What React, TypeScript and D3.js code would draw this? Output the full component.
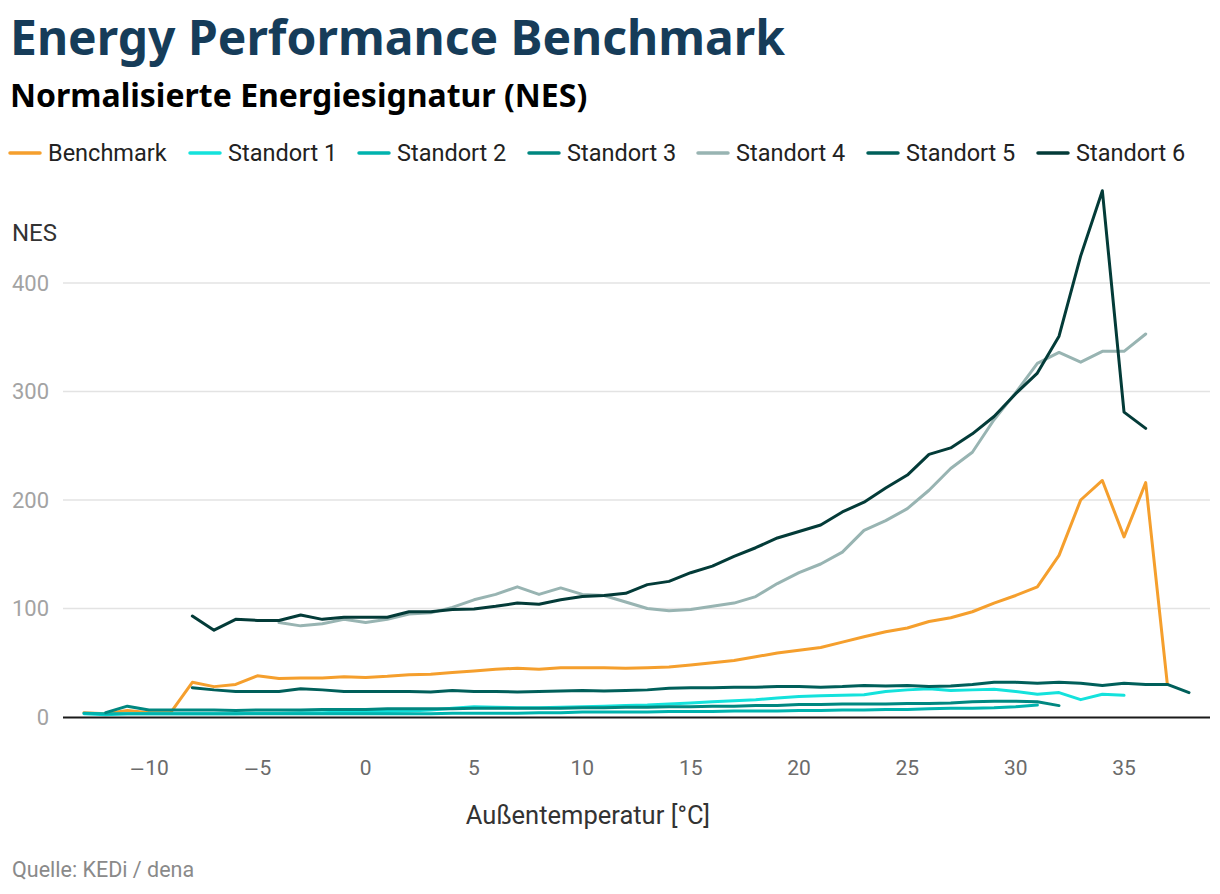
import * as d3 from "d3";
import { useEffect, useRef } from "react";

const seriesNames = ["Benchmark", "Standort 1", "Standort 2", "Standort 3", "Standort 4", "Standort 5", "Standort 6"];
const seriesColors = ["#f59f2d", "#14e2dc", "#00b3ae", "#008780", "#98b4b2", "#005f5a", "#033b38"];

// each series starts at a given temperature and has one value per degree
const benchmarkStart = -13;
const benchmark = [4, 3, 6, 4, 4, 32, 28, 30, 38, 35.5, 36, 36, 37, 36.5, 37.5, 39, 39.5, 41, 42.5, 44, 45, 44, 45.5, 45.5, 45.5, 45, 45.5, 46, 48, 50, 52, 55.5, 59, 61.5, 64, 69, 74, 78.5, 82, 88, 91.5, 97, 105, 112, 120, 149, 200, 218, 166, 216, 30];

const standort1Start = -13;
const standort1 = [3, 2, 3, 3, 3, 3, 3, 3, 3.5, 3.5, 4, 4, 4.5, 5, 5, 5.5, 6.5, 8, 9.5, 9, 8.5, 8.5, 9, 9.5, 10, 10.5, 11, 12, 13, 14, 15, 16, 17.5, 19, 19.5, 20, 20.5, 23.5, 25, 26, 24.5, 25, 25.5, 23.5, 21, 22.5, 16, 21, 20];

const standort2Start = -13;
const standort2 = [3.5, 3, 3, 3, 3, 3, 3, 3, 3, 3, 3, 3, 3, 3, 3, 3, 3, 3.5, 3.5, 3.5, 3.5, 4, 4, 4.5, 4.5, 4.5, 4.5, 5, 5, 5, 5.5, 5.5, 5.5, 6, 6, 6.5, 6.5, 7, 7, 7.5, 8, 8, 8.5, 9.5, 11];

const standort3Start = -12;
const standort3 = [4, 10, 6.5, 6.5, 6.5, 6.5, 6, 6.5, 6.5, 6.5, 7, 7, 7, 7.5, 7.5, 7.5, 7.5, 8, 8, 8, 8, 8, 8.5, 8.5, 9, 9, 9.5, 9.5, 10, 10, 10.5, 10.5, 11.5, 11.5, 12, 12, 12, 12.5, 12.5, 13, 14, 14.5, 14.5, 14, 10.5];

const standort4Start = -4;
const standort4 = [87, 84, 86, 90, 87, 90, 95, 96, 101, 108, 113, 120, 113, 119, 113, 112, 106, 100, 98, 99, 102, 105, 111, 123, 133, 141, 152, 172, 181, 192, 209, 229, 244, 274, 299, 326, 336, 327, 337, 337, 353];

const standort5Start = -8;
const standort5 = [27, 25, 23.5, 23.5, 23.5, 26, 25, 23.5, 23.5, 23.5, 23.5, 23, 24.5, 23.5, 23.5, 23, 23.5, 24, 24.5, 24, 24.5, 25, 26.5, 27, 27, 27.5, 27.5, 28, 28, 27.5, 28, 29, 28.5, 29, 28, 28.5, 30, 32, 32, 31, 32, 31, 29, 31, 30, 30, 22.5];

const standort6Start = -8;
const standort6 = [93, 80, 90, 89, 89, 94, 90, 92, 92, 92, 97, 97, 99, 99.5, 102, 105, 104, 108, 111, 112, 114, 122, 125, 133, 139, 148, 156, 165, 171, 177, 189, 198, 211, 223, 242, 248, 261, 277, 298, 317, 351, 425, 485, 281, 266];

const seriesStarts = [benchmarkStart, standort1Start, standort2Start, standort3Start, standort4Start, standort5Start, standort6Start];
const seriesValues = [benchmark, standort1, standort2, standort3, standort4, standort5, standort6];

const xTicks = [-10, -5, 0, 5, 10, 15, 20, 25, 30, 35];
const yTicks = [0, 100, 200, 300, 400];

const App: React.FC = () => {
  const ref = useRef<SVGSVGElement | null>(null);

  useEffect(() => {
    if (!ref.current) return;
    const svg = d3.select(ref.current);
    svg.selectAll("*").remove();

    const font = "Roboto, sans-serif";
    const x = d3.scaleLinear().domain([-13, 39]).range([84, 1210.7]);
    const y = d3.scaleLinear().domain([0, 400]).range([717, 283]);
    const plotLeft = 63;
    const plotRight = 1210;

    // titles
    svg.append("text").attr("x", 10).attr("y", 55)
      .attr("font-family", "'Noto Sans', sans-serif").attr("font-weight", 700)
      .attr("font-size", 48).attr("fill", "#163c59").text("Energy Performance Benchmark");
    svg.append("text").attr("x", 10).attr("y", 107)
      .attr("font-family", "'Noto Sans', sans-serif").attr("font-weight", 700)
      .attr("font-size", 32).attr("fill", "#000").text("Normalisierte Energiesignatur (NES)");

    // legend
    const legendX = [10, 190, 359, 529, 698, 868, 1038];
    seriesNames.forEach((name, i) => {
      const g = svg.append("g").attr("transform", `translate(${legendX[i]},153)`);
      g.append("line").attr("x1", 0).attr("x2", 30).attr("y1", 0).attr("y2", 0)
        .attr("stroke", seriesColors[i]).attr("stroke-width", 3.5).attr("stroke-linecap", "round");
      g.append("text").attr("x", 38).attr("y", 0).attr("dy", "0.35em")
        .attr("font-family", font).attr("font-size", 23.5).attr("fill", "#222").text(name);
    });

    // grid
    svg.append("g").selectAll("line").data(yTicks.filter((t) => t > 0)).join("line")
      .attr("x1", plotLeft).attr("x2", plotRight)
      .attr("y1", (d) => y(d)).attr("y2", (d) => y(d))
      .attr("stroke", "#e3e3e3").attr("stroke-width", 1.5);

    svg.append("g").selectAll("text").data(yTicks).join("text")
      .attr("x", 49).attr("y", (d) => y(d)).attr("dy", "0.35em").attr("text-anchor", "end")
      .attr("font-family", font).attr("font-size", 22).attr("fill", "#a3a3a3")
      .text((d) => d3.format("d")(d));

    svg.append("text").attr("x", 12).attr("y", 233).attr("dy", "0.35em")
      .attr("font-family", font).attr("font-size", 24).attr("fill", "#333").text("NES");

    // lines
    const line = d3.line<[number, number]>()
      .x((d) => x(d[0]))
      .y((d) => y(d[1]));

    seriesValues.forEach((vals, i) => {
      const pts: [number, number][] = vals.map((v, k) => [seriesStarts[i] + k, v]);
      svg.append("path").datum(pts)
        .attr("fill", "none").attr("stroke", seriesColors[i]).attr("stroke-width", 3)
        .attr("stroke-linejoin", "round").attr("stroke-linecap", "round")
        .attr("d", line);
    });

    // x axis
    svg.append("line").attr("x1", plotLeft).attr("x2", plotRight)
      .attr("y1", y(0) + 0.5).attr("y2", y(0) + 0.5)
      .attr("stroke", "#1a1a1a").attr("stroke-width", 2);

    const xLabels = svg.append("g").selectAll("text").data(xTicks).join("text")
      .attr("x", (d) => x(d)).attr("y", 768).attr("dy", "0.35em").attr("text-anchor", "middle")
      .attr("font-family", font).attr("font-size", 21).attr("fill", "#6b6b6b");
    xLabels.filter((d) => d < 0).append("tspan")
      .attr("font-family", "'DejaVu Sans', sans-serif").attr("font-size", 19).text("\u2212");
    xLabels.append("tspan").text((d) => String(Math.abs(d)));

    svg.append("text").attr("x", 588).attr("y", 815).attr("dy", "0.35em").attr("text-anchor", "middle")
      .attr("font-family", font).attr("font-size", 25.5).attr("fill", "#333").text("Außentemperatur [°C]");

    svg.append("text").attr("x", 12).attr("y", 869).attr("dy", "0.35em")
      .attr("font-family", font).attr("font-size", 21.5).attr("fill", "#8a8a8a").text("Quelle: KEDi / dena");
  }, []);

  return (
    <svg
      ref={ref}
      width={1220}
      height={894}
      style={{ position: "absolute", left: 0, top: 0, background: "#fff" }}
    />
  );
};

export default App;
